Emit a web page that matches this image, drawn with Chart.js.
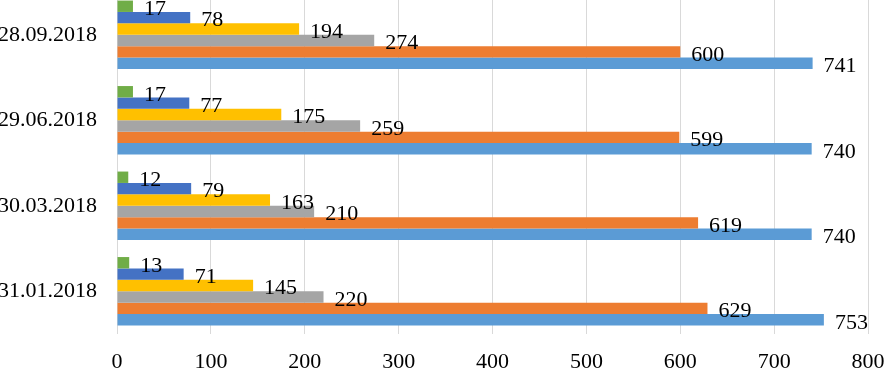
<!DOCTYPE html>
<html>
<head>
<meta charset="utf-8">
<script src="https://cdn.jsdelivr.net/npm/chart.js@4.4.1/dist/chart.umd.min.js"></script>
<style>
  html, body { margin: 0; padding: 0; background: #fff; }
  #wrap { position: relative; width: 885px; height: 368px; overflow: hidden; }
  #chart { position: absolute; left: 0; top: -8px; }
</style>
</head>
<body>
<div id="wrap"><canvas id="chart" width="885" height="376"></canvas></div>
<script>
// categories, top to bottom
var dates = ["28.09.2018", "29.06.2018", "30.03.2018", "31.01.2018"];

// series, in the order they stack from the top of each group
var greenVals = [17, 17, 12, 13];
var navyVals = [78, 77, 79, 71];
var yellowVals = [194, 175, 163, 145];
var greyVals = [274, 259, 210, 220];
var orangeVals = [600, 599, 619, 629];
var blueVals = [741, 740, 740, 753];

var xTicks = [0, 100, 200, 300, 400, 500, 600, 700, 800];

var serif = "'Liberation Serif', 'Times New Roman', serif";

function series(vals, color) {
  return { data: vals, backgroundColor: color, borderWidth: 0 };
}

// draws the value to the right of every bar
var valueLabels = {
  id: "valueLabels",
  afterDatasetsDraw: function (chart) {
    var ctx = chart.ctx;
    ctx.save();
    ctx.font = "22px " + serif;
    ctx.fillStyle = "#000";
    ctx.textAlign = "left";
    ctx.textBaseline = "middle";
    chart.data.datasets.forEach(function (ds, i) {
      chart.getDatasetMeta(i).data.forEach(function (bar, j) {
        ctx.fillText(String(ds.data[j]), bar.x + 11, bar.y + 3);
      });
    });
    ctx.restore();
  },
};

new Chart(document.getElementById("chart"), {
  type: "bar",
  data: {
    labels: dates,
    datasets: [
      series(greenVals, "#70AD47"),
      series(navyVals, "#4472C4"),
      series(yellowVals, "#FFC000"),
      series(greyVals, "#A5A5A5"),
      series(orangeVals, "#ED7D31"),
      series(blueVals, "#5B9BD5"),
    ],
  },
  options: {
    indexAxis: "y",
    responsive: false,
    animation: false,
    devicePixelRatio: 1,
    categoryPercentage: 0.8,
    barPercentage: 1.0,
    layout: { padding: 0 },
    plugins: {
      legend: { display: false },
      tooltip: { enabled: false },
    },
    scales: {
      x: {
        min: 0,
        max: 800,
        afterBuildTicks: function (scale) {
          scale.ticks = xTicks.map(function (v) { return { value: v }; });
        },
        afterFit: function (scale) {
          scale.height = 34;
          scale.paddingLeft = 0;
          scale.paddingRight = 17;
        },
        border: { display: false },
        grid: { color: "#D9D9D9", lineWidth: 1, drawTicks: false },
        ticks: {
          padding: 15,
          maxRotation: 0,
          color: "#000",
          font: { family: serif, size: 22 },
        },
      },
      y: {
        border: { display: false },
        grid: { display: false, drawTicks: false },
        afterFit: function (scale) {
          scale.width = 117;
          scale.paddingTop = 0;
          scale.paddingBottom = 0;
        },
        ticks: {
          padding: 20,
          color: "#000",
          font: { family: serif, size: 22 },
        },
      },
    },
  },
  plugins: [valueLabels],
});
</script>
</body>
</html>
